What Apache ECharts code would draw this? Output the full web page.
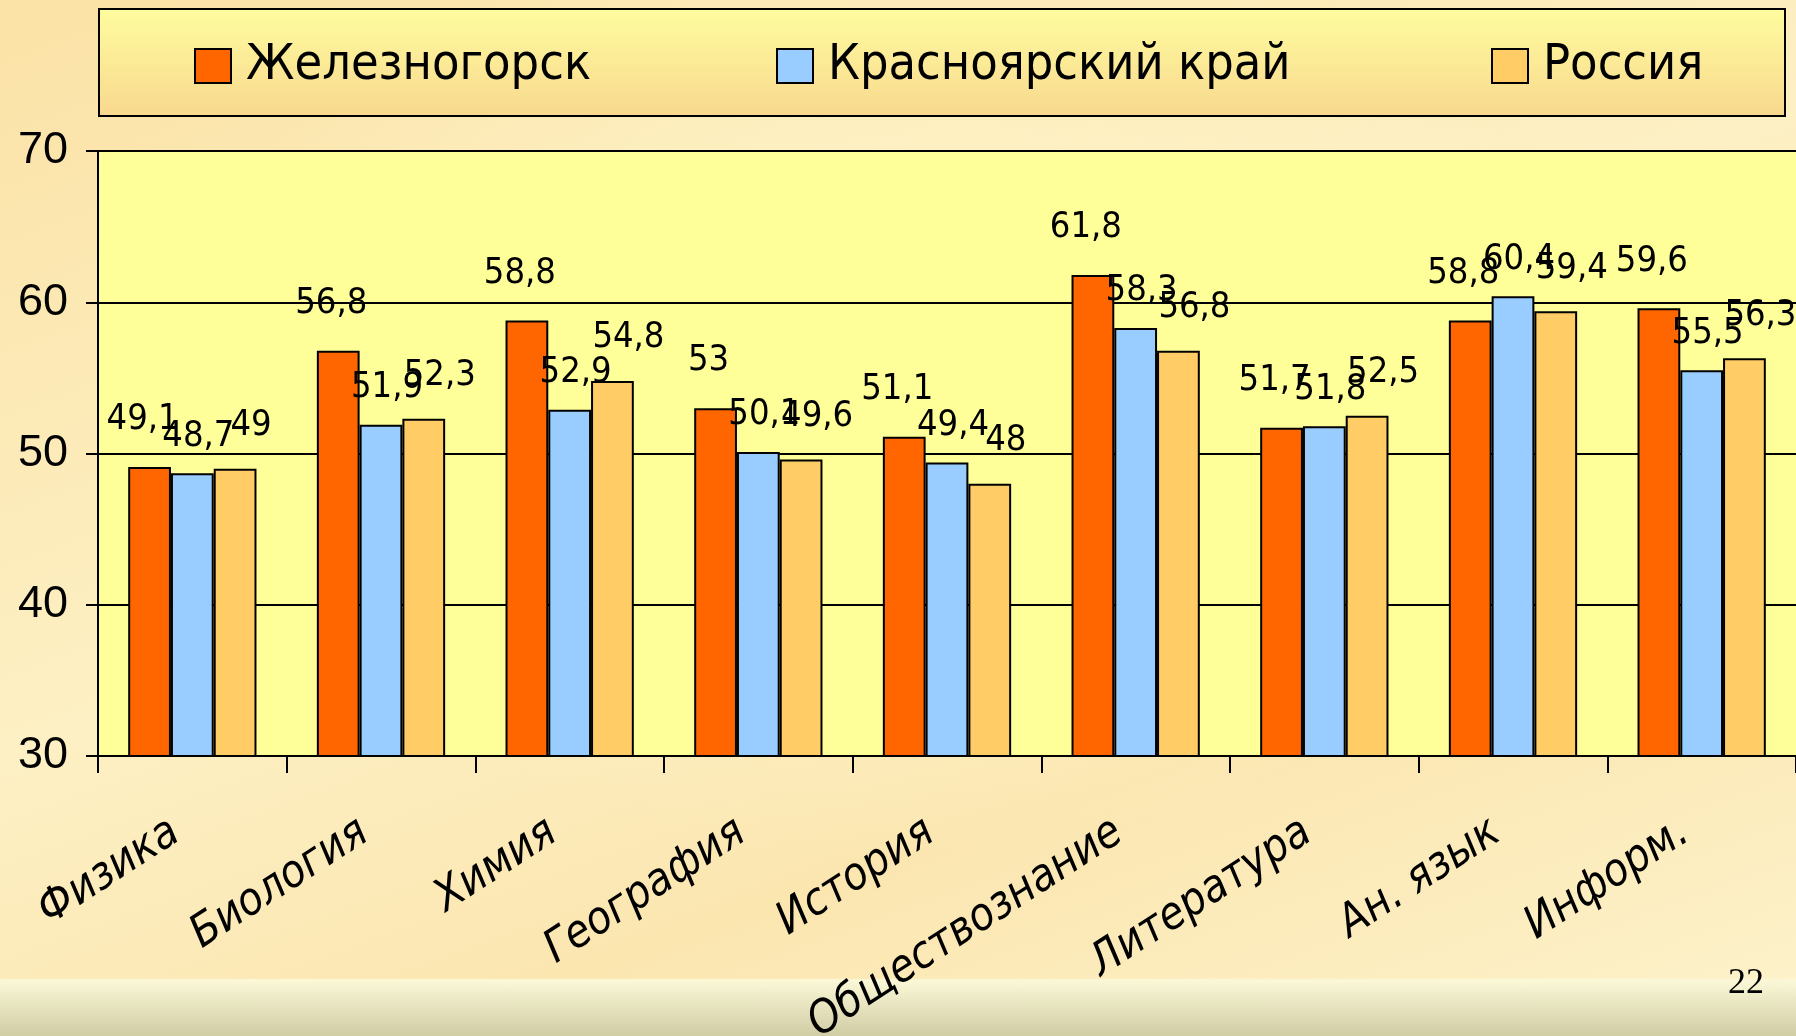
<!DOCTYPE html>
<html>
<head>
<meta charset="utf-8">
<script src="https://cdn.jsdelivr.net/npm/echarts@6/dist/echarts.min.js"></script>
<style>
  html, body { margin: 0; padding: 0; }
  body {
    width: 1796px; height: 1036px; overflow: hidden; position: relative;
    background:
      linear-gradient(180deg, rgba(0,0,0,0) 0, rgba(0,0,0,0) 978px, #fbf8d8 980px, #d0cca4 1036px),
      radial-gradient(ellipse 700px 500px at 50% 35%, #fff4c8 0%, rgba(255,244,200,0) 100%),
      linear-gradient(160deg, #fbe2a6 0%, #fdf0c4 45%, #fbe6b0 70%, #fdf3cc 100%);
  }
  #chart { width: 1796px; height: 1036px; }
  #page { position: absolute; left: 1728px; top: 960px; font: 36px "Liberation Serif", serif; color: #000; }
</style>
</head>
<body>
<div id="chart"></div>
<div id="page">22</div>
<script>
// subjects
const categories = ['Физика', 'Биология', 'Химия', 'География', 'История',
  'Обществознание', 'Литература', 'Ан. язык', 'Информ.'];

// average scores
const zheleznogorsk = [49.1, 56.8, 58.8, 53, 51.1, 61.8, 51.7, 58.8, 59.6];
const krasnoyarsk = [48.7, 51.9, 52.9, 50.1, 49.4, 58.3, 51.8, 60.4, 55.5];
const russia = [49, 52.3, 54.8, 49.6, 48, 56.8, 52.5, 59.4, 56.3];

const seriesNames = ['Железногорск', 'Красноярский край', 'Россия'];
const yTicks = { min: 30, max: 70, interval: 10 };

const colors = ['#ff6600', '#99ccff', '#ffcc66'];
const font = '"DejaVu Sans Condensed", "DejaVu Sans", sans-serif';

const fmt = (p) => String(p.value).replace('.', ',');

const makeSeries = (name, data, color, offset) => ({
  name,
  type: 'bar',
  data,
  barGap: '0%',
  barCategoryGap: '32%',
  itemStyle: { color, borderColor: '#000', borderWidth: 2 },
  label: {
    show: true,
    position: 'top',
    offset,
    formatter: fmt,
    color: '#000',
    fontFamily: font,
    fontSize: 36
  }
});

const legendAt = (name, left) => ({
  data: [name],
  left,
  top: 36,
  icon: 'rect',
  itemWidth: 36,
  itemHeight: 34,
  itemGap: 0,
  textStyle: { color: '#000', fontFamily: font, fontSize: 50, padding: [0, 0, 0, 10] },
  itemStyle: { borderColor: '#000', borderWidth: 2 }
});

const chart = echarts.init(document.getElementById('chart'), null, { renderer: 'canvas' });

chart.setOption({
  animation: false,
  backgroundColor: 'transparent',
  graphic: [{
    type: 'rect',
    shape: { x: 99, y: 9, width: 1686, height: 107 },
    style: {
      fill: new echarts.graphic.LinearGradient(0, 0, 0, 1, [
        { offset: 0, color: '#fffc9f' },
        { offset: 1, color: '#f8d88e' }
      ]),
      stroke: '#000',
      lineWidth: 2
    },
    z: 0
  }],
  legend: [
    legendAt(seriesNames[0], 189),
    legendAt(seriesNames[1], 771),
    legendAt(seriesNames[2], 1486)
  ],
  grid: {
    left: 98, top: 151, right: 0, bottom: 280,
    containLabel: false,
    outerBoundsMode: 'none',
    show: true, backgroundColor: '#ffff99', borderWidth: 0
  },
  xAxis: {
    type: 'category',
    data: categories,
    axisLine: { lineStyle: { color: '#000', width: 2 } },
    axisTick: { show: true, length: 17, lineStyle: { color: '#000', width: 2 } },
    axisLabel: {
      rotate: 33,
      margin: 62,
      padding: [0, 20, 0, 0],
      color: '#000',
      fontFamily: font,
      fontStyle: 'italic',
      fontSize: 45
    }
  },
  yAxis: {
    type: 'value',
    min: yTicks.min,
    max: yTicks.max,
    interval: yTicks.interval,
    axisLine: { show: true, lineStyle: { color: '#000', width: 2 } },
    axisTick: { show: true, length: 12, lineStyle: { color: '#000', width: 2 } },
    splitLine: { lineStyle: { color: '#000', width: 2 } },
    axisLabel: {
      margin: 30,
      color: '#000',
      fontFamily: '"Liberation Sans", Arial, sans-serif',
      fontSize: 45
    }
  },
  series: [
    makeSeries(seriesNames[0], zheleznogorsk, colors[0], [-7, -24]),
    makeSeries(seriesNames[1], krasnoyarsk, colors[1], [6, -14]),
    makeSeries(seriesNames[2], russia, colors[2], [16, -20])
  ]
});
</script>
</body>
</html>
